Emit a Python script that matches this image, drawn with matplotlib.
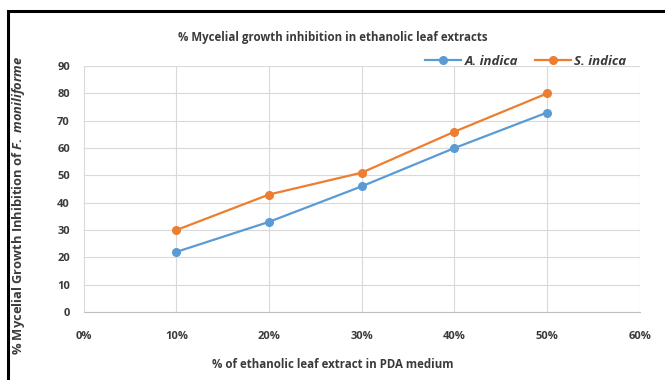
import matplotlib.pyplot as plt
from matplotlib.patches import Rectangle

plt.rcParams['font.family'] = ['Open Sans', 'DejaVu Sans']
plt.rcParams['mathtext.fontset'] = 'custom'
plt.rcParams['mathtext.it'] = 'Open Sans:italic:bold'
plt.rcParams['mathtext.rm'] = 'Open Sans:bold'

# data
conc = [0.10, 0.20, 0.30, 0.40, 0.50]
a_indica = [22, 33, 46, 60, 73]
s_indica = [30, 43, 51, 66, 80]
xticks = [0.0, 0.1, 0.2, 0.3, 0.4, 0.5, 0.6]
xtick_labels = ['0%', '10%', '20%', '30%', '40%', '50%', '60%']
yticks = [0, 10, 20, 30, 40, 50, 60, 70, 80, 90]

txt = '#3A3A3A'

fig = plt.figure(figsize=(6.65, 3.8), dpi=100)
ax = fig.add_axes([0.126, 0.179, 0.836, 0.647])

ax.plot(conc, a_indica, color='#5B9BD5', marker='o', markersize=5.5, lw=1.6, label='A. indica')
ax.plot(conc, s_indica, color='#ED7D31', marker='o', markersize=5.5, lw=1.6, label='S. indica')

ax.set_xlim(0, 0.6)
ax.set_ylim(0, 90)
ax.set_xticks(xticks)
ax.set_xticklabels(xtick_labels)
ax.set_yticks(yticks)
ax.grid(True, color='#D9D9D9', lw=0.8)
ax.set_axisbelow(True)
for s in ['top', 'right', 'left']:
    ax.spines[s].set_visible(False)
ax.spines['bottom'].set_color('#BFBFBF')
ax.tick_params(axis='x', length=0, labelsize=8, colors=txt, pad=14)
ax.tick_params(axis='y', length=0, labelsize=8, colors=txt, pad=10)
for lab in ax.get_xticklabels() + ax.get_yticklabels():
    lab.set_fontweight('bold')

fig.text(0.5, 0.9, '% Mycelial growth inhibition in ethanolic leaf extracts',
         ha='center', va='center', fontsize=8.3, fontweight='bold', color=txt)
fig.text(0.5, 0.04, '% of ethanolic leaf extract in PDA medium',
         ha='center', va='center', fontsize=8.3, fontweight='bold', color=txt)
fig.text(0.028, 0.46, r'% Mycelial Growth Inhibition of $\it{F.\ moniliforme}$',
         ha='center', va='center', rotation=90, fontsize=9.3, fontweight='bold', color=txt)

leg = ax.legend(loc='center right', bbox_to_anchor=(0.985, 1.02), ncol=2, frameon=False,
                prop={'style': 'italic', 'weight': 'bold', 'size': 9.5},
                handlelength=2.7, handletextpad=0.25, columnspacing=1.3, borderaxespad=0)
for t in leg.get_texts():
    t.set_color(txt)

# outer frame
fig.patches.append(Rectangle((8 / 665, -0.1), 1.2, 1.1 - 11 / 380,
                             transform=fig.transFigure, fill=False,
                             edgecolor='black', lw=2.2))

fig.savefig('out.png', dpi=100)
